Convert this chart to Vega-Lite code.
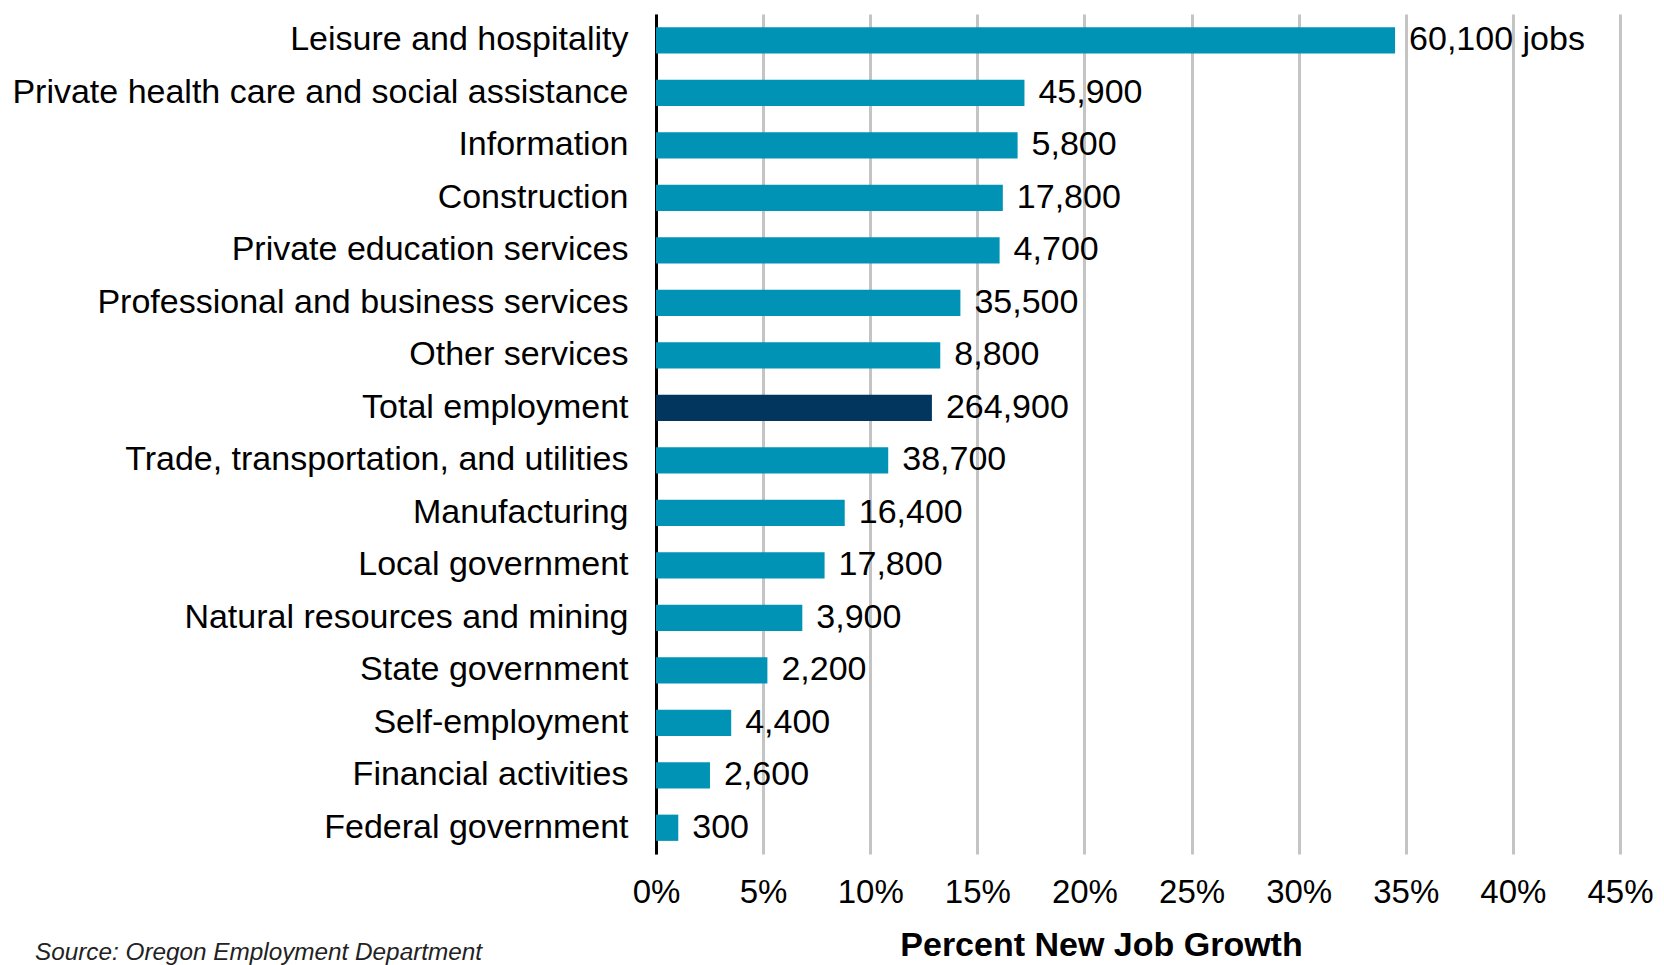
{
  "$schema": "https://vega.github.io/schema/vega-lite/v6.json",
  "autosize": {"type": "none"},
  "padding": {"left": 656, "top": 14, "right": 44, "bottom": 111},
  "width": 964,
  "height": 840,
  "background": "white",
  "config": {
    "view": {"stroke": null},
    "font": "Liberation Sans"
  },
  "title": {
    "text": "Source: Oregon Employment Department",
    "orient": "bottom",
    "anchor": "start",
    "frame": "group",
    "font": "Liberation Sans",
    "fontStyle": "italic",
    "fontWeight": "normal",
    "fontSize": 24.3,
    "color": "#222222",
    "dx": -621,
    "dy": -25
  },
  "data": {
    "values": [
      {"sector": "Leisure and hospitality", "pct": 0.345, "label": "60,100 jobs", "total": "no"},
      {"sector": "Private health care and social assistance", "pct": 0.172, "label": "45,900", "total": "no"},
      {"sector": "Information", "pct": 0.1688, "label": "5,800", "total": "no"},
      {"sector": "Construction", "pct": 0.1619, "label": "17,800", "total": "no"},
      {"sector": "Private education services", "pct": 0.1604, "label": "4,700", "total": "no"},
      {"sector": "Professional and business services", "pct": 0.1421, "label": "35,500", "total": "no"},
      {"sector": "Other services", "pct": 0.1327, "label": "8,800", "total": "no"},
      {"sector": "Total employment", "pct": 0.1288, "label": "264,900", "total": "yes"},
      {"sector": "Trade, transportation, and utilities", "pct": 0.1084, "label": "38,700", "total": "no"},
      {"sector": "Manufacturing", "pct": 0.0881, "label": "16,400", "total": "no"},
      {"sector": "Local government", "pct": 0.0787, "label": "17,800", "total": "no"},
      {"sector": "Natural resources and mining", "pct": 0.0683, "label": "3,900", "total": "no"},
      {"sector": "State government", "pct": 0.052, "label": "2,200", "total": "no"},
      {"sector": "Self-employment", "pct": 0.0351, "label": "4,400", "total": "no"},
      {"sector": "Financial activities", "pct": 0.0252, "label": "2,600", "total": "no"},
      {"sector": "Federal government", "pct": 0.0104, "label": "300", "total": "no"}
    ]
  },
  "encoding": {
    "y": {
      "field": "sector",
      "type": "nominal",
      "sort": null,
      "scale": {"paddingInner": 0.5, "paddingOuter": 0.25},
      "axis": {
        "title": null,
        "labelFontSize": 34,
        "labelColor": "#000000",
        "labelPadding": 28,
        "labelLimit": 0,
        "ticks": false,
        "domain": true,
        "domainColor": "#000000",
        "domainWidth": 3,
        "grid": false
      }
    },
    "x": {
      "field": "pct",
      "type": "quantitative",
      "scale": {"domain": [0, 0.45], "nice": false},
      "axis": {
        "values": [0, 0.05, 0.1, 0.15, 0.2, 0.25, 0.3, 0.35, 0.4, 0.45],
        "format": ".0%",
        "labelFontSize": 33,
        "labelColor": "#000000",
        "labelPadding": 22,
        "labelOverlap": false,
        "labelFlush": false,
        "labelBound": false,
        "labelAlign": "center",
        "ticks": false,
        "domain": false,
        "grid": true,
        "gridColor": "#c4c4c4",
        "gridWidth": 3,
        "title": "Percent New Job Growth",
        "titleFontSize": 34,
        "titleFontWeight": "bold",
        "titleColor": "#000000",
        "titleX": 445,
        "titleY": 91,
        "titleAlign": "center",
        "titleBaseline": "middle"
      }
    }
  },
  "layer": [
    {
      "mark": {"type": "bar"},
      "encoding": {
        "color": {
          "field": "total",
          "type": "nominal",
          "scale": {"domain": ["no", "yes"], "range": ["#0093b5", "#02365f"]},
          "legend": null
        }
      }
    },
    {
      "mark": {"type": "text", "align": "left", "baseline": "middle", "dx": 14, "fontSize": 34, "color": "#000000"},
      "encoding": {"text": {"field": "label"}}
    }
  ]
}
